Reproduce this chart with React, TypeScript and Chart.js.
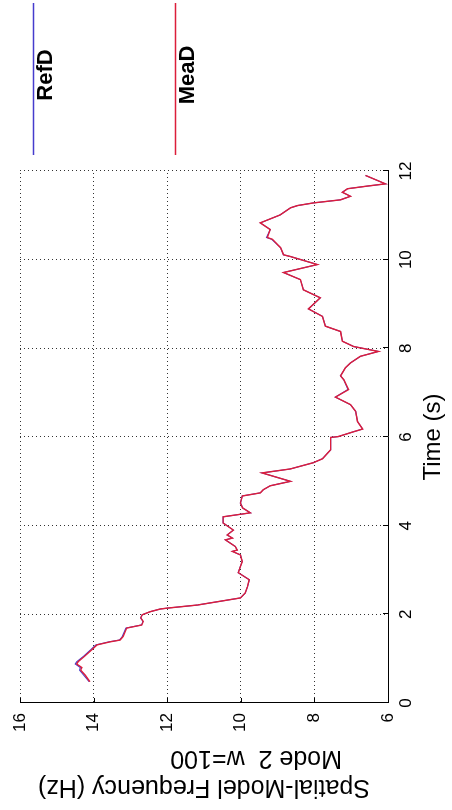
import React, { useEffect, useRef } from "react";
import { Chart, registerables } from "chart.js";

Chart.register(...registerables);

const FONT = 'Arial, "Liberation Sans", Helvetica, sans-serif';

// Time (s)
const times = [
  0.48, 0.63, 0.74, 0.8, 0.88, 0.93, 1.05, 1.2, 1.31, 1.38, 1.42, 1.5, 1.69, 1.76, 1.84, 1.92, 1.99, 2.06, 2.12, 2.14,
  2.21, 2.37, 2.48, 2.62, 2.78, 2.94, 3.06, 3.19, 3.34, 3.42, 3.45, 3.53, 3.68, 3.72, 3.79, 3.9, 4.06, 4.2, 4.29, 4.4,
  4.51, 4.67, 4.74, 4.81, 4.9, 5.0, 5.19, 5.28, 5.42, 5.51, 5.71, 5.99, 6.01, 6.12, 6.18, 6.35, 6.58, 6.73, 6.9, 7.07,
  7.29, 7.38, 7.56, 7.67, 7.82, 7.93, 8.04, 8.16, 8.38, 8.5, 8.72, 8.89, 9.14, 9.32, 9.55, 9.71, 9.89, 10.07, 10.11, 10.27,
  10.46, 10.5, 10.68, 10.83, 11.01, 11.17, 11.22, 11.28, 11.35, 11.43, 11.52, 11.6, 11.66, 11.71, 11.9,
];

// Reference frequency (Hz)
const refD = [
  14.12, 14.27, 14.38, 14.36, 14.5, 14.46, 14.28, 14.08, 13.94, 13.58, 13.3, 13.22, 13.12, 12.7, 12.66, 12.72, 12.68, 12.46, 12.19, 12.0,
  11.18, 10.01, 9.88, 9.82, 9.77, 10.07, 10.02, 9.96, 10.01, 10.23, 10.1, 10.15, 10.42, 10.23, 10.37, 10.2, 10.48, 10.48, 9.74, 9.95,
  10.01, 9.96, 9.47, 9.39, 9.2, 8.65, 9.42, 8.65, 8.03, 7.78, 7.56, 7.56, 7.35, 6.93, 6.69, 6.83, 6.88, 7.02, 7.43, 7.09,
  7.2, 7.29, 7.16, 7.02, 6.75, 6.26, 6.93, 7.24, 7.29, 7.7, 7.78, 8.16, 7.84, 8.3, 8.38, 8.84, 7.92, 8.65, 8.84, 8.92,
  9.16, 9.3, 9.2, 9.47, 8.93, 8.65, 8.46, 8.03, 7.29, 7.02, 7.24, 7.1, 6.56, 6.07, 6.61,
];

// Measured frequency (Hz)
const meaD = [
  14.1, 14.23, 14.35, 14.32, 14.46, 14.42, 14.25, 14.05, 13.91, 13.55, 13.28, 13.2, 13.1, 12.69, 12.65, 12.72, 12.68, 12.46, 12.19, 12.0,
  11.18, 10.01, 9.88, 9.82, 9.77, 10.07, 10.02, 9.96, 10.01, 10.23, 10.1, 10.15, 10.42, 10.23, 10.37, 10.2, 10.48, 10.48, 9.74, 9.95,
  10.01, 9.96, 9.47, 9.39, 9.2, 8.65, 9.42, 8.65, 8.03, 7.78, 7.56, 7.56, 7.35, 6.93, 6.69, 6.83, 6.88, 7.02, 7.43, 7.07,
  7.2, 7.29, 7.16, 7.02, 6.75, 6.26, 6.93, 7.24, 7.29, 7.7, 7.78, 8.16, 7.84, 8.3, 8.38, 8.84, 7.92, 8.65, 8.84, 8.92,
  9.14, 9.28, 9.2, 9.47, 8.93, 8.65, 8.46, 8.03, 7.29, 7.02, 7.24, 7.1, 6.56, 6.07, 6.61,
];

const timeTicks = [0, 2, 4, 6, 8, 10, 12];
const freqTicks = [6, 8, 10, 12, 14, 16];
const seriesLabels = ["RefD", "MeaD"];
const xTitle = "Time (s)";
const yTitle = ["Spatial-Model Frequency (Hz)", "Mode 2  w=100" + "\u00a0".repeat(15)];

const BLUE = "rgb(70,60,205)";
const RED = "rgb(220,30,58)";

const inwardTicks = {
  id: "inwardTicks",
  afterDraw(chart: any) {
    const { ctx, chartArea: a, scales } = chart;
    ctx.save();
    ctx.strokeStyle = "#000";
    ctx.lineWidth = 1;
    scales.x.ticks.forEach((t: any) => {
      const p = Math.round(scales.x.getPixelForValue(t.value)) + 0.5;
      ctx.beginPath();
      ctx.moveTo(p, a.bottom);
      ctx.lineTo(p, a.bottom - 5);
      ctx.stroke();
    });
    scales.y.ticks.forEach((t: any) => {
      const p = Math.round(scales.y.getPixelForValue(t.value)) + 0.5;
      ctx.beginPath();
      ctx.moveTo(a.left, p);
      ctx.lineTo(a.left + 5, p);
      ctx.stroke();
    });
    ctx.restore();
  },
};

const sideLegend = {
  id: "sideLegend",
  afterDraw(chart: any) {
    const { ctx } = chart;
    const x0 = 655;
    const x1 = 807;
    const rows = [33, 175];
    chart.data.datasets.forEach((ds: any, i: number) => {
      const y = rows[i];
      ctx.save();
      ctx.strokeStyle = ds.borderColor;
      ctx.lineWidth = 1.3;
      ctx.beginPath();
      ctx.moveTo(x0, y + 0.5);
      ctx.lineTo(x1, y + 0.5);
      ctx.stroke();
      ctx.fillStyle = "#000";
      ctx.font = `bold 22px ${FONT}`;
      ctx.textAlign = "center";
      ctx.textBaseline = "middle";
      ctx.fillText(ds.label, 735, y + 13);
      ctx.restore();
    });
  },
};

export default function App() {
  const ref = useRef<HTMLCanvasElement>(null);

  useEffect(() => {
    const canvas = ref.current;
    if (!canvas) return;
    const gridCommon = { color: "#333", lineWidth: 1, drawTicks: false };
    const borderCommon = { display: true, color: "#000", width: 1, dash: [1, 3] };
    const chart = new Chart(canvas, {
      type: "scatter",
      data: {
        datasets: [
          {
            label: seriesLabels[0],
            data: times.map((t, i) => ({ x: t, y: refD[i] })),
            borderColor: BLUE,
            backgroundColor: BLUE,
            borderWidth: 1.1,
            pointRadius: 0,
            showLine: true,
            fill: false,
            order: 1,
          },
          {
            label: seriesLabels[1],
            data: times.map((t, i) => ({ x: t, y: meaD[i] })),
            borderColor: RED,
            backgroundColor: RED,
            borderWidth: 1.4,
            pointRadius: 0,
            showLine: true,
            fill: false,
            order: 0,
          },
        ],
      },
      options: {
        animation: false,
        responsive: false,
        devicePixelRatio: 1,
        layout: { padding: { top: 20, right: 171, bottom: 0, left: 0 } },
        plugins: {
          legend: { display: false },
          tooltip: { enabled: false },
        },
        scales: {
          x: {
            type: "linear",
            position: "bottom",
            min: 0,
            max: 12,
            afterBuildTicks: (s: any) => {
              s.ticks = timeTicks.map((v) => ({ value: v }));
            },
            afterFit: (s: any) => {
              s.height = 64;
              s.paddingLeft = 0;
              s.paddingRight = 0;
            },
            ticks: {
              color: "#000",
              font: { family: FONT, size: 17 },
              padding: 8,
              maxRotation: 0,
              autoSkip: false,
            },
            grid: gridCommon,
            border: borderCommon,
            title: {
              display: true,
              text: xTitle,
              color: "#000",
              font: { family: FONT, size: 24, lineHeight: 1.2 },
              padding: { top: 0, bottom: 4 },
            },
          },
          y: {
            type: "linear",
            position: "left",
            min: 6,
            max: 16,
            afterBuildTicks: (s: any) => {
              s.ticks = freqTicks.map((v) => ({ value: v }));
            },
            afterFit: (s: any) => {
              s.width = 107;
              s.paddingTop = 0;
              s.paddingBottom = 0;
            },
            ticks: {
              color: "#000",
              font: { family: FONT, size: 17 },
              padding: 10,
              autoSkip: false,
            },
            grid: gridCommon,
            border: borderCommon,
            title: {
              display: true,
              text: yTitle,
              color: "#000",
              font: { family: FONT, size: 25, lineHeight: 1.14 },
              padding: { top: 9, bottom: 0 },
            },
          },
        },
      },
      plugins: [inwardTicks, sideLegend],
    } as any);
    return () => chart.destroy();
  }, []);

  return (
    <div
      style={{
        position: "fixed",
        left: 0,
        top: 0,
        width: 810,
        height: 452,
        background: "#fff",
        transformOrigin: "0 0",
        transform: "translateY(810px) rotate(-90deg)",
      }}
    >
      <canvas ref={ref} width={810} height={452} style={{ display: "block", width: 810, height: 452 }} />
    </div>
  );
}
